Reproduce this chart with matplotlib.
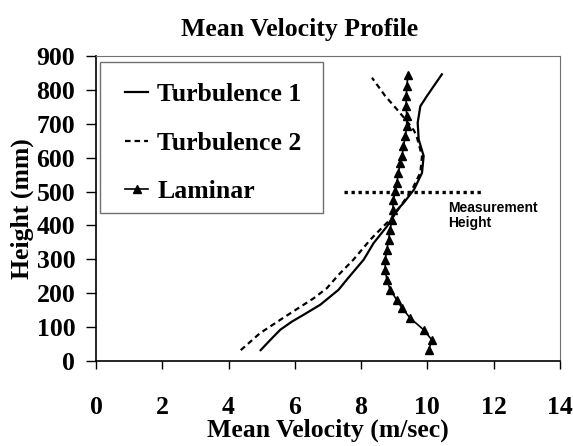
import matplotlib
matplotlib.use("Agg")
import matplotlib.pyplot as plt
from matplotlib.patches import Rectangle

# velocity (m/sec) vs height (mm)
turb1_v = [4.97, 5.26, 5.56, 5.91, 6.26, 6.77, 7.07, 7.32, 7.57, 7.82, 8.08, 8.38, 8.78,
           9.10, 9.29, 9.60, 9.84, 9.89, 9.74, 9.71, 9.79, 9.99, 10.44]
turb1_h = [32, 62, 92, 116, 136, 166, 190, 210, 240, 269, 299, 348, 397,
           447, 467, 506, 555, 605, 654, 703, 752, 782, 846]

turb2_v = [4.37, 4.95, 5.71, 6.57, 6.97, 7.32, 7.77, 8.28, 8.67, 8.98, 9.54, 9.79,
           9.84, 9.69, 9.60, 9.34, 9.08, 8.73, 8.33]
turb2_h = [32, 82, 131, 185, 215, 254, 299, 358, 397, 427, 506, 556,
           605, 659, 680, 713, 743, 782, 836]

lam_v = [10.04, 10.14, 9.89, 9.49, 9.24, 9.08, 8.88, 8.78, 8.73, 8.73, 8.78, 8.83, 8.88,
         8.93, 8.96, 8.98, 9.03, 9.08, 9.13, 9.18, 9.24, 9.28, 9.34, 9.38, 9.38, 9.36,
         9.37, 9.38, 9.42]
lam_h = [32, 62, 92, 126, 156, 180, 210, 240, 269, 299, 328, 358, 388,
         417, 447, 476, 501, 526, 555, 585, 605, 634, 664, 693, 723, 752,
         782, 812, 843]

meas_v = [7.5, 11.7]
meas_h = [500, 500]

serif = "Liberation Serif"

fig = plt.figure(figsize=(5.73, 4.46), dpi=100)
ax = fig.add_axes([0.1675, 0.1906, 0.8095, 0.6838])

ax.plot(turb1_v, turb1_h, color="black", lw=1.6, label="Turbulence 1")
ax.plot(turb2_v, turb2_h, color="black", lw=1.6, dashes=(2.5, 1.8), label="Turbulence 2")
ax.plot(lam_v, lam_h, color="black", lw=1.2, marker="^", markersize=5.5, label="Laminar")
ax.plot(meas_v, meas_h, color="black", lw=2.4, dashes=(1, 1.1))

ax.text(10.63, 472, "Measurement\nHeight", family="Liberation Sans", fontweight="bold",
        fontsize=10, va="top", ha="left", linespacing=1.1)

ax.set_xlim(0, 14)
ax.set_ylim(0, 900)
ax.set_xticks(range(0, 15, 2))
ax.set_yticks(range(0, 901, 100))
ax.tick_params(axis="x", direction="out", length=6, width=1, pad=19)
ax.tick_params(axis="y", direction="out", length=7, width=1, pad=8)
for lbl in ax.get_xticklabels() + ax.get_yticklabels():
    lbl.set_family(serif)
    lbl.set_fontweight("bold")
    lbl.set_fontsize(18.5)

for s in ["top", "right"]:
    ax.spines[s].set_color("#707070")
    ax.spines[s].set_linewidth(0.8)
for s in ["left", "bottom"]:
    ax.spines[s].set_color("black")
    ax.spines[s].set_linewidth(1.2)

ax.set_xlabel("Mean Velocity (m/sec)", family=serif, fontweight="bold", fontsize=18.5, labelpad=0)
ax.set_ylabel("Height (mm)", family=serif, fontweight="bold", fontsize=18.5, labelpad=2)

fig.text(0.522, 0.933, "Mean Velocity Profile", family=serif, fontweight="bold",
         fontsize=18.5, ha="center", va="center")

# legend frame drawn separately so the inner padding can match
ax.add_patch(Rectangle((0.0086, 0.485), 0.481, 0.495, transform=ax.transAxes,
                       facecolor="white", edgecolor="#707070", lw=1.0, zorder=4))
leg = ax.legend(loc="upper left", bbox_to_anchor=(0.0625, 0.912), frameon=False,
                borderaxespad=0, borderpad=0, handlelength=0.9, handletextpad=0.35,
                labelspacing=1.0, numpoints=1,
                prop={"family": serif, "weight": "bold", "size": 18.5})
leg.set_zorder(5)

fig.savefig("out.png", dpi=100)
